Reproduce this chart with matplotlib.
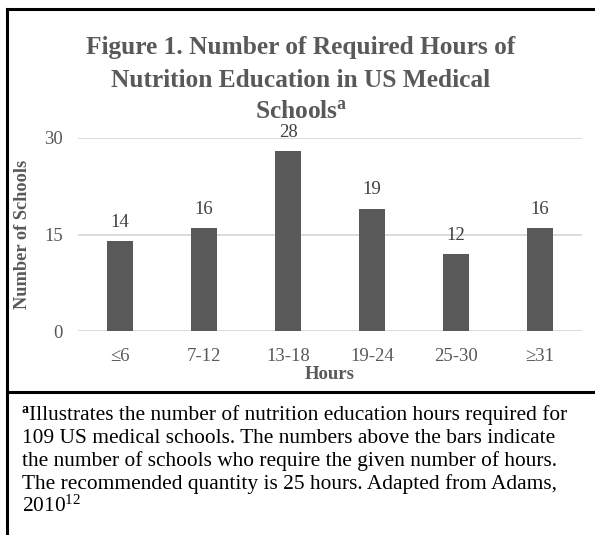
import matplotlib.pyplot as plt
from matplotlib.lines import Line2D

plt.rcParams['font.family'] = ['Liberation Serif', 'DejaVu Serif']
plt.rcParams['mathtext.fontset'] = 'custom'
plt.rcParams['mathtext.rm'] = 'Liberation Serif'
plt.rcParams['mathtext.it'] = 'Liberation Serif:italic'
plt.rcParams['mathtext.bf'] = 'Liberation Serif:bold'

categories = ["≤6", "7-12", "13-18", "19-24", "25-30", "≥31"]
schools = [14, 16, 28, 19, 12, 16]
y_ticks = [0, 15, 30]

title_lines = ["Figure 1. Number of Required Hours of",
               "Nutrition Education in US Medical",
               r"Schools$^{\mathbf{a}}$"]
footnote_lines = ["Illustrates the number of nutrition education hours required for",
                  "109 US medical schools. The numbers above the bars indicate",
                  "the number of schools who require the given number of hours.",
                  "The recommended quantity is 25 hours. Adapted from Adams,",
                  r"2010$^{12}$"]

W, H = 595, 535
fig = plt.figure(figsize=(W / 100, H / 100), dpi=100)

def fx(px):
    return px / W

def fy(py):
    return 1 - py / H

# plot area (pixels)
x0, x1 = 78, 582
ytop, ybot = 138, 331
ax = fig.add_axes([fx(x0), fy(ybot), (x1 - x0) / W, (ybot - ytop) / H])

pos = range(len(categories))
ax.bar(pos, schools, width=0.31, color="#595959", zorder=3)
for p, v in zip(pos, schools):
    ax.text(p, v + 1.6, str(v), ha="center", va="bottom", fontsize=13.5,
            color="#404040", clip_on=False)

ax.set_xlim(-0.5, len(categories) - 0.5)
ax.set_ylim(0, 30)
ax.set_yticks(y_ticks)
ax.set_yticklabels([str(t) for t in y_ticks])
ax.set_xticks(list(pos))
ax.set_xticklabels(categories)
ax.tick_params(axis="both", length=0, labelsize=13.5, labelcolor="#595959")
ax.tick_params(axis="y", pad=11)
ax.tick_params(axis="x", pad=12)
ax.grid(axis="y", color="#d9d9d9", linewidth=1.3, zorder=0)
for s in ax.spines.values():
    s.set_visible(False)

ax.set_xlabel("Hours", fontsize=13.5, fontweight="bold", color="#595959", labelpad=1)
fig.text(fx(23), fy(234), "Number of Schools", rotation=90, ha="center",
         va="center", fontsize=13.2, fontweight="bold", color="#595959")

# title, one line at a time
for yb, line in zip([54, 87, 118], title_lines):
    fig.text(fx(301), fy(yb), line, ha="center", va="baseline", fontsize=18.3,
             fontweight="bold", color="#595959")

# footnote
fig.text(fx(22), fy(413), "a", ha="left", va="baseline", fontsize=10,
         fontweight="bold", color="black")
for i, (yb, line) in enumerate(zip([420, 443, 466, 489, 512], footnote_lines)):
    fig.text(fx(29 if i == 0 else 22), fy(yb), line, ha="left", va="baseline",
             fontsize=15.4, color="black")

# frame lines (box is cut off on the right and bottom)
lw = 2.2
fig.add_artist(Line2D([fx(6.5), fx(6.5)], [0, fy(9)], color="black", lw=lw))
fig.add_artist(Line2D([fx(6.5), 1], [fy(9), fy(9)], color="black", lw=lw))
fig.add_artist(Line2D([fx(6.5), 1], [fy(392), fy(392)], color="black", lw=lw))

fig.savefig("out.png", dpi=100)
